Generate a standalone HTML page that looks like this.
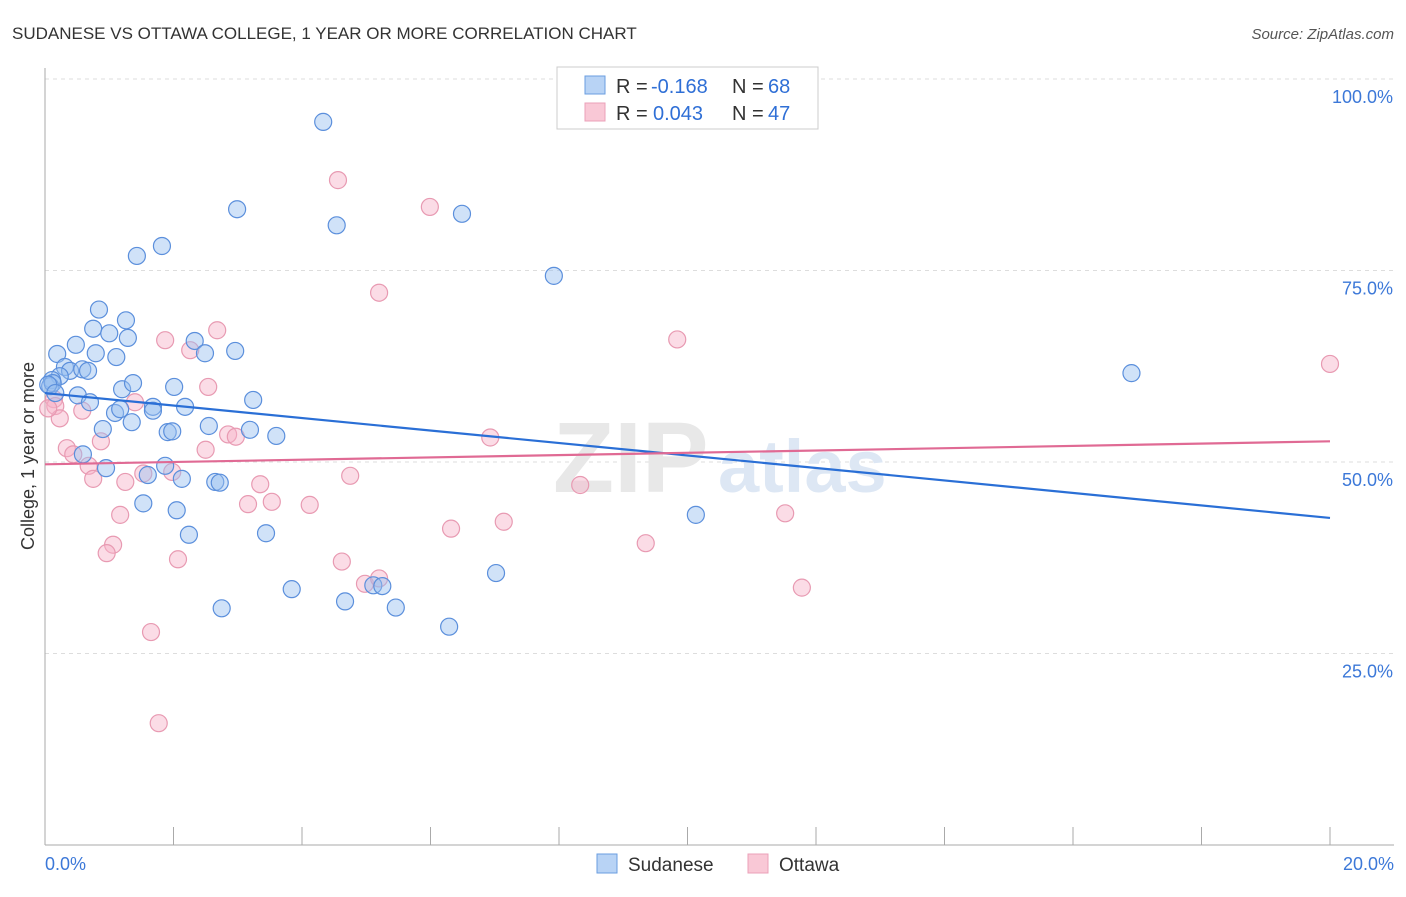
<!DOCTYPE html>
<html><head><meta charset="utf-8"><style>
body{margin:0;background:#fff;font-family:"Liberation Sans",sans-serif;}
svg text{font-family:"Liberation Sans",sans-serif;}
</style></head><body>
<svg width="1406" height="892">
<text x="12" y="39" font-size="17" fill="#333">SUDANESE VS OTTAWA COLLEGE, 1 YEAR OR MORE CORRELATION CHART</text>
<text x="1394" y="39" font-size="15" fill="#555" font-style="italic" text-anchor="end">Source: ZipAtlas.com</text>
<g id="grid"></g>
<text x="553" y="492" font-size="100" fill="#e8e8e8" font-family="Liberation Serif" font-weight="bold">ZIP</text>
<text x="718" y="492" font-size="74" fill="#dde7f4" font-weight="bold">atlas</text>
<g id="marks"></g>
<text x="34" y="456" font-size="18" fill="#333" text-anchor="middle" transform="rotate(-90 34 456)">College, 1 year or more</text>
<g>
<rect x="557" y="67" width="261" height="62" fill="#fff" stroke="#ccc"/>
<rect x="585" y="76" width="20" height="18" fill="#b8d3f5" stroke="#6a9ee0"/>
<rect x="585" y="103" width="20" height="18" fill="#f9c8d6" stroke="#eba0b8"/>
<text x="616" y="93" font-size="20" fill="#333">R =</text>
<text x="651" y="93" font-size="20" fill="#2f6fd6">-0.168</text>
<text x="732" y="93" font-size="20" fill="#333">N =</text>
<text x="768" y="93" font-size="20" fill="#2f6fd6">68</text>
<text x="616" y="120" font-size="20" fill="#333">R =</text>
<text x="653" y="120" font-size="20" fill="#2f6fd6">0.043</text>
<text x="732" y="120" font-size="20" fill="#333">N =</text>
<text x="768" y="120" font-size="20" fill="#2f6fd6">47</text>
</g>
<g>
<rect x="597" y="854" width="20" height="19" fill="#b8d3f5" stroke="#6a9ee0"/>
<text x="628" y="871" font-size="19" fill="#333">Sudanese</text>
<rect x="748" y="854" width="20" height="19" fill="#f9c8d6" stroke="#eba0b8"/>
<text x="779" y="871" font-size="19" fill="#333">Ottawa</text>
</g>
</svg>
<script>
const xTicks=[0,2,4,6,8,10,12,14,16,18,20];
const yTicks=[25,50,75,100];
const yTickLabels=["25.0%","50.0%","75.0%","100.0%"];
const sudaneseX=[4.33,4.54,2.99,6.49,1.82,1.43,7.92,16.91,0.84,1.26,0.75,1.00,1.29,0.48,0.19,0.79,1.11,2.33,2.49,2.96,0.31,0.39,0.58,0.67,0.23,0.11,0.08,0.12,1.20,1.37,2.01,0.51,0.70,3.24,2.18,1.09,1.17,1.68,1.68,1.35,0.90,1.91,1.98,2.55,3.19,3.60,0.59,0.95,1.87,1.60,2.13,2.65,2.72,1.53,2.05,2.24,3.44,10.13,3.84,4.67,5.11,5.25,5.46,2.75,7.02,6.29,0.05,0.16];
const sudaneseY=[94.4,80.9,83.0,82.4,78.2,76.9,74.3,61.6,69.9,68.5,67.4,66.8,66.2,65.3,64.1,64.2,63.7,65.8,64.2,64.5,62.4,61.9,62.1,61.9,61.2,60.7,59.9,60.3,59.5,60.3,59.8,58.7,57.8,58.1,57.2,56.4,56.9,57.2,56.7,55.2,54.3,53.9,54.0,54.7,54.2,53.4,51.0,49.2,49.5,48.3,47.8,47.4,47.3,44.6,43.7,40.5,40.7,43.1,33.4,31.8,33.9,33.8,31.0,30.9,35.5,28.5,60.1,59.0];
const ottawaX=[4.56,5.99,5.20,9.84,20.0,2.68,1.87,2.26,2.54,0.14,0.16,0.23,0.58,1.40,2.85,2.97,6.93,0.34,0.44,0.87,2.50,0.68,0.75,1.25,1.53,1.98,3.35,4.75,8.33,3.16,3.53,4.12,1.17,1.06,0.96,2.07,4.62,4.98,5.20,6.32,7.14,9.35,11.52,11.78,1.65,1.77,0.05];
const ottawaY=[86.8,83.3,72.1,66.0,62.8,67.2,65.9,64.6,59.8,58.2,57.3,55.7,56.7,57.8,53.6,53.3,53.2,51.8,51.0,52.7,51.6,49.5,47.8,47.4,48.5,48.7,47.1,48.2,47.0,44.5,44.8,44.4,43.1,39.2,38.1,37.3,37.0,34.1,34.8,41.3,42.2,39.4,43.3,33.6,27.8,15.9,57.0];
const trendX=[0,20];
const sudaneseTrend=[59.0,42.7];
const ottawaTrend=[49.7,52.7];
const NS='http://www.w3.org/2000/svg';
const X=v=>45+v/20*1285, Y=v=>845-v/100*766;
function mk(t,a,p){const e=document.createElementNS(NS,t);for(const k in a)e.setAttribute(k,a[k]);p.appendChild(e);return e;}
const grid=document.getElementById('grid'), marks=document.getElementById('marks');
yTicks.forEach((t,i)=>{
 const l=mk('line',{x1:45,x2:1394,y1:Y(t),y2:Y(t),stroke:'#ddd','stroke-dasharray':'4,4'},grid);
 
 
 const tx=mk('text',{x:1393,y:Y(t)+24,'font-size':18,fill:'#3c78d8','text-anchor':'end'},grid);
 tx.textContent=yTickLabels[i];
 
 
});
const ax=mk('line',{x1:45,x2:45,y1:68,y2:845,stroke:'#aaa'},grid);


const bx=mk('line',{x1:45,x2:1394,y1:845,y2:845,stroke:'#aaa'},grid);


xTicks.forEach(t=>{
 const l=mk('line',{x1:X(t),x2:X(t),y1:827,y2:845,stroke:'#aaa'},grid);
 
 
});
[[0,'0.0%','start',45],[20,'20.0%','end',1394]].forEach(a=>{
 const tx=mk('text',{x:a[3],y:870,'font-size':18,fill:'#3c78d8','text-anchor':a[2]},grid);
 tx.textContent=a[1];
 
 
});
function pts(xs,ys,fill,stroke,name){xs.forEach((v,i)=>{
 const c=mk('circle',{cx:X(v),cy:Y(ys[i]),r:8.5,fill:fill,stroke:stroke,'stroke-width':1.2},marks);
 
 
});}
pts(ottawaX,ottawaY,'rgba(246,178,200,0.45)','#e89ab2','ottawa-point');
pts(sudaneseX,sudaneseY,'rgba(150,190,240,0.45)','#5b8fdc','sudanese-point');
const t1=mk('line',{x1:X(trendX[0]),x2:X(trendX[1]),y1:Y(sudaneseTrend[0]),y2:Y(sudaneseTrend[1]),stroke:'#2a6fd6','stroke-width':2.2},marks);


const t2=mk('line',{x1:X(trendX[0]),x2:X(trendX[1]),y1:Y(ottawaTrend[0]),y2:Y(ottawaTrend[1]),stroke:'#e06a94','stroke-width':2.2},marks);


</script>
</body></html>
